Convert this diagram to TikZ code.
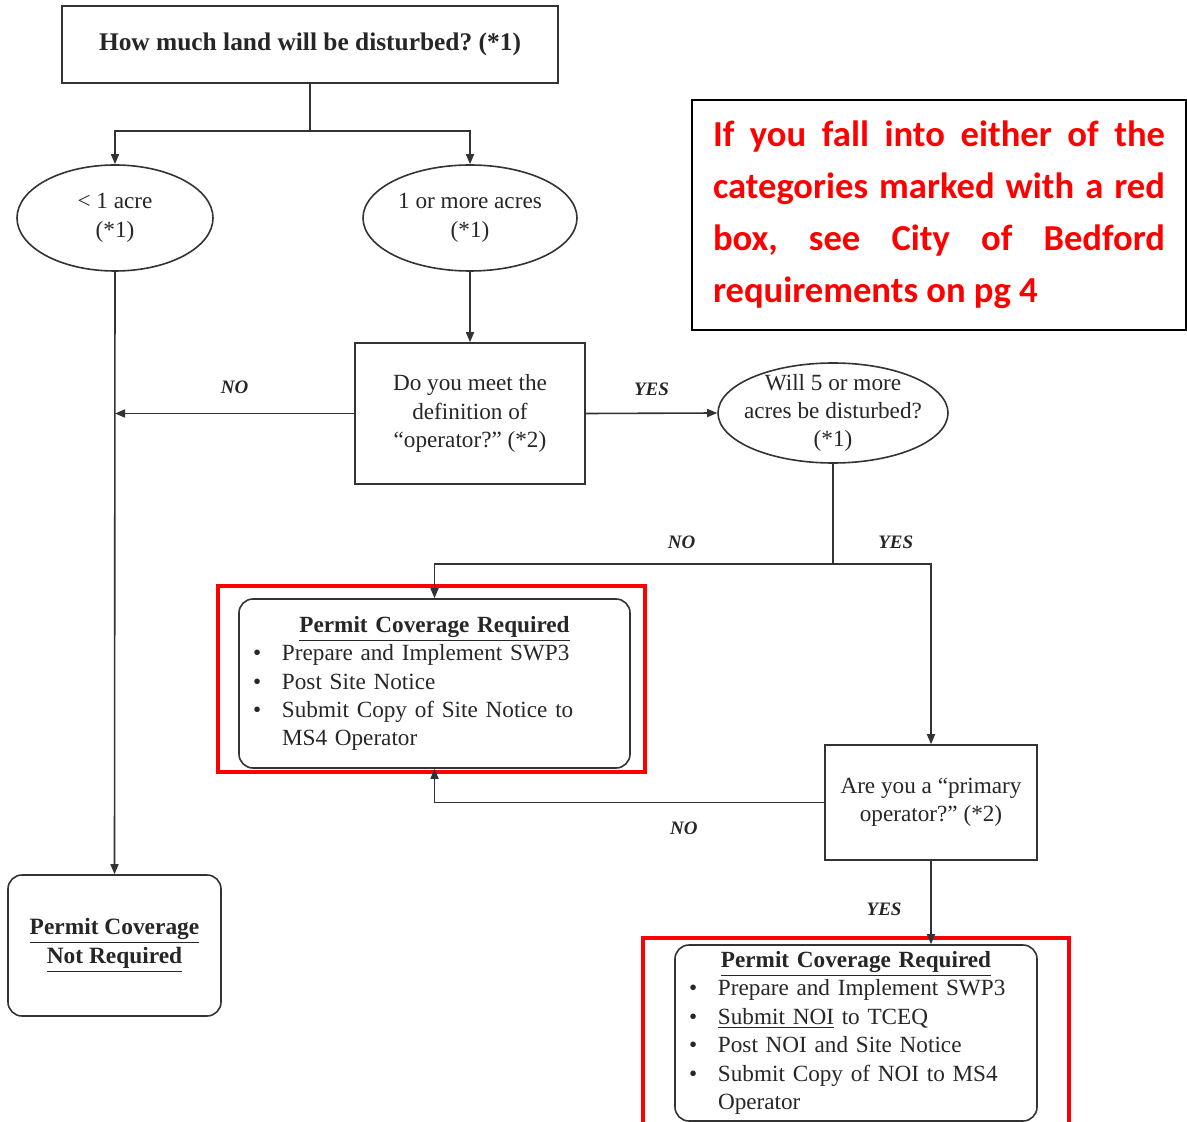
\documentclass[tikz,border=0pt]{standalone}
\usepackage{fontspec}
\setmainfont{Liberation Serif}
\newfontfamily\notefont{Carlito}
\usetikzlibrary{shapes.geometric, arrows.meta, positioning}
\frenchspacing

\newcommand{\bul}{\hspace*{1pt}\makebox[14.5pt][l]{\textbullet}}
\newcommand{\headline}[1]{\hspace*{\fill}\underline{\textbf{#1}}\hspace*{\fill}\mbox{}}

\begin{document}
\begin{tikzpicture}[x=0.5pt, y=-0.5pt, >={Triangle[length=5pt,width=4pt]}, font=\fontsize{11.6}{14.2}\selectfont]
    \tikzstyle{box} = [draw=black!80, line width=0.8pt, rectangle, align=center, inner sep=0pt, text=black!85]
    \tikzstyle{roundbox} = [box, rounded corners=7pt, align=left, inner xsep=6pt]
    \tikzstyle{oval} = [draw=black!80, line width=0.8pt, ellipse, inner sep=0pt]
    \tikzstyle{ovaltext} = [align=center, text=black!85]
    \tikzstyle{notebox} = [draw=black, line width=1pt, rectangle, inner sep=0pt, text width=226pt, align=justify, text=red, font=\notefont\bfseries\fontsize{18.3}{26}\selectfont]
    \tikzstyle{redframe} = [draw=red, line width=2.2pt]
    \tikzstyle{line} = [draw=black!80, line width=0.8pt, ->]
    \tikzstyle{answer} = [font=\fontsize{9.5}{11}\selectfont\bfseries\itshape, text=black!85]

    \useasboundingbox (0,0) rectangle (1187,1122);

    \node [box, minimum width=248pt, minimum height=38.5pt, font=\fontsize{12.7}{15}\selectfont\bfseries] (land) at (310,44.5) {How much land will be disturbed? (*1)};
    \node [oval, minimum width=98pt, minimum height=53pt] (small) at (115,218) {};
    \node [ovaltext] (smalltext) at (small) {< 1 acre\\(*1)};
    \node [oval, minimum width=107pt, minimum height=53pt] (large) at (470,218) {};
    \node [ovaltext] (largetext) at (large) {1 or more acres\\(*1)};
    \node [box, minimum width=115pt, minimum height=70.5pt] (operator) at (470,413.5) {Do you meet the\\definition of\\``operator?'' (*2)};
    \node [oval, minimum width=115pt, minimum height=50pt] (five) at (833,413) {};
    \node [ovaltext] (fivetext) at (five) {Will 5 or more\\acres be disturbed?\\(*1)};
    \node [box, minimum width=106pt, minimum height=57.5pt] (primary) at (931,802.5) {Are you a ``primary\\operator?'' (*2)};
    \node [roundbox, align=center, minimum width=106.5pt, minimum height=70.5pt, font=\fontsize{11.7}{14.5}\selectfont\bfseries] (notreq) at (114.5,945.5) {\underline{Permit Coverage}\\\underline{Not Required}};

    \node [roundbox, minimum width=195.5pt, minimum height=84.5pt, text width=183.5pt] (req1) at (434.5,683.5) {%
        \headline{Permit Coverage Required}\\
        \bul Prepare and Implement SWP3\\
        \bul Post Site Notice\\
        \bul Submit Copy of Site Notice to\\
        \hspace*{15.5pt}MS4 Operator};
    \node [roundbox, minimum width=181pt, minimum height=88pt, text width=169pt] (req2) at (856,1033) {%
        \headline{Permit Coverage Required}\\
        \bul Prepare and Implement SWP3\\
        \bul \underline{Submit NOI} to TCEQ\\
        \bul Post NOI and Site Notice\\
        \bul Submit Copy of NOI to MS4\\
        \hspace*{15.5pt}Operator};

    \node [notebox, minimum width=247pt, minimum height=115pt] (note) at (939,215) {If you fall into either of the\linebreak categories marked with a red\linebreak box, see City of Bedford\linebreak requirements on pg 4};

    % red marks round the permit boxes
    \draw [redframe] (218,586) rectangle (645,772);
    \draw [redframe] (643,938) rectangle (1069,1135);

    \coordinate (split) at (310,131);
    \coordinate (split2) at (833,564);

    \draw [line, -] (land.south) -- (split);
    \draw [line] (split) -| (small.north);
    \draw [line] (split) -| (large.north);
    \draw [line] (large.south) -- (operator.north);
    \draw [line] (operator.west) -- node [answer, above=6pt] {NO} (operator.west -| small.south);
    \draw [line] (small.south) -- (notreq.north);
    \draw [line] (operator.east) -- node [answer, above=5pt] {YES} (five.west);

    % acreage splits to both permit paths
    \draw [line, -] (five.south) -- (split2);
    \draw [line] (split2) -| node [answer, pos=0.19, above=4pt] {NO} (req1.north);
    \draw [line] (split2) -| node [answer, pos=0.32, above=4pt] {YES} (primary.north);
    \draw [line] (primary.west) -| node [answer, pos=0.18, below=6pt] {NO} (req1.south);
    \draw [line] (primary.south) -- node [answer, pos=0.58, left=11pt] {YES} (primary.south |- req2.north);
\end{tikzpicture}
\end{document}
